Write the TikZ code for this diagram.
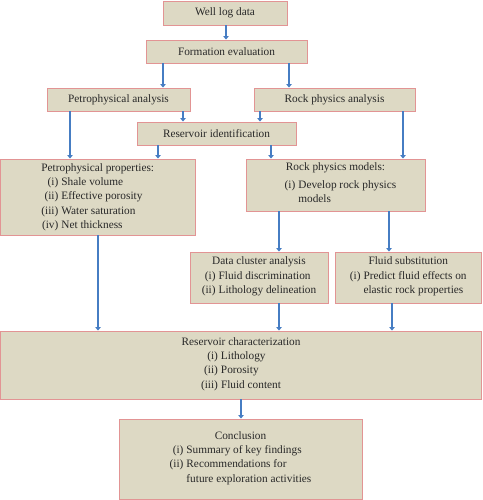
\documentclass[tikz,border=0pt]{standalone}
\usepackage{fontspec}
\setmainfont{Liberation Serif}
\usetikzlibrary{arrows.meta}
\definecolor{boxfill}{RGB}{221,217,196}
\definecolor{boxline}{RGB}{226,148,148}
\definecolor{arrblue}{RGB}{70,125,195}
\definecolor{txt}{RGB}{40,40,40}
\newcommand{\lst}[1]{\begin{tabular}[t]{@{}r@{\hspace{3pt}}l@{}}#1\end{tabular}}
\begin{document}
\begin{tikzpicture}[x=1pt,y=-1pt,
  box/.style={draw=boxline, fill=boxfill, line width=0.9pt, inner sep=0pt,
    text=txt, font=\fontsize{11.3}{14.3}\selectfont, align=center},
  arr/.style={draw=arrblue, line width=1.8pt, -{Triangle[length=3.5pt,width=5.5pt]}}]
\useasboundingbox (0,0) rectangle (482,500);

\node[box, minimum width=124pt, minimum height=24pt] (wld) at (225,13) {Well log data};
\node[box, minimum width=161pt, minimum height=23pt] (fe) at (226.5,51.5) {Formation evaluation};
\node[box, minimum width=143pt, minimum height=23pt] (pa) at (118.5,99.5) {Petrophysical analysis};
\node[box, minimum width=161pt, minimum height=23pt] (rpa) at (334.5,99.5) {Rock physics analysis};
\node[box, minimum width=159pt, minimum height=23pt] (ri) at (216.5,133.5) {Reservoir identification};

\node[box, minimum width=194.5pt, minimum height=76pt] (pp) at (97.75,197)
  {\begin{tabular}{@{}r@{\hspace{3pt}}l@{}}
   \multicolumn{2}{@{}c@{}}{Petrophysical properties:}\\
   (i) & Shale volume\\
   (ii) & Effective porosity\\
   (iii) & Water saturation\\
   (iv) & Net thickness
   \end{tabular}};
\node[box, minimum width=179pt, minimum height=52pt] (rpm) at (335.5,185)
  {Rock physics models:\\[3pt]
   \hspace*{10pt}\lst{(i) & Develop rock physics\\ & models}};
\node[box, minimum width=138pt, minimum height=51pt] (dca) at (259,277.5)
  {Data cluster analysis\\
   \lst{(i) & Fluid discrimination\\ (ii) & Lithology delineation}};
\node[box, minimum width=146.5pt, minimum height=51pt] (fs) at (408.25,277.5)
  {Fluid substitution\\
   \lst{(i) & Predict fluid effects on\\ & elastic rock properties}};
\node[box, minimum width=481pt, minimum height=68pt] (rc) at (241,365)
  {Reservoir characterization\\
   \lst{(i) & Lithology\\ (ii) & Porosity\\ (iii) & Fluid content}};
\node[box, minimum width=243pt, minimum height=80pt] (con) at (240.5,459)
  {Conclusion\\
   \lst{(i) & Summary of key findings\\ (ii) & Recommendations for\\ & future exploration activities}};

\draw[arr] (wld.south -| 226,0) -- (fe.north -| 226,0);
\draw[arr] (fe.south -| 163,0) -- (pa.north -| 163,0);
\draw[arr] (fe.south -| 289,0) -- (rpa.north -| 289,0);
\draw[arr] (pa.south -| 70,0) -- (pp.north -| 70,0);
\draw[arr] (pa.south -| 183,0) -- (ri.north -| 183,0);
\draw[arr] (rpa.south -| 260,0) -- (ri.north -| 260,0);
\draw[arr] (rpa.south -| 403,0) -- (rpm.north -| 403,0);
\draw[arr] (ri.south -| 158,0) -- (pp.north -| 158,0);
\draw[arr] (ri.south -| 271,0) -- (rpm.north -| 271,0);
\draw[arr] (pp.south -| 98,0) -- (rc.north -| 98,0);
\draw[arr] (rpm.south -| 279,0) -- (dca.north -| 279,0);
\draw[arr] (rpm.south -| 389,0) -- (fs.north -| 389,0);
\draw[arr] (dca.south -| 279,0) -- (rc.north -| 279,0);
\draw[arr] (fs.south -| 392,0) -- (rc.north -| 392,0);
\draw[arr] (rc.south -| 241,0) -- (con.north -| 241,0);
\end{tikzpicture}
\end{document}
